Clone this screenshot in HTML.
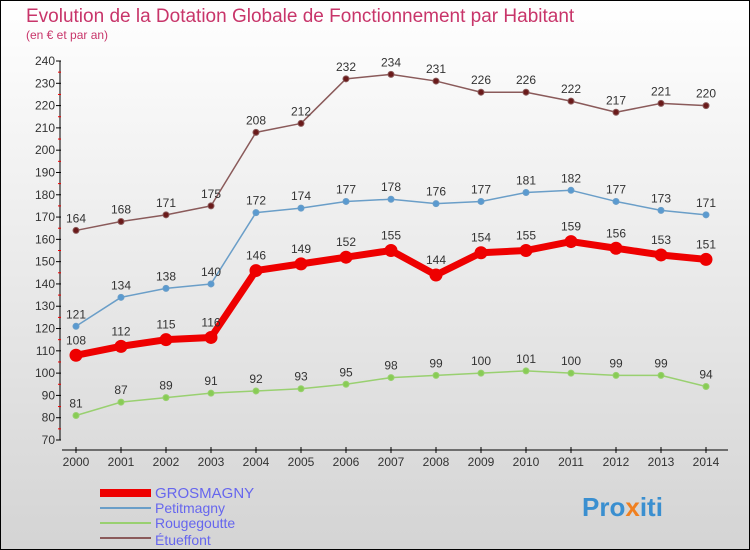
<!DOCTYPE html>
<html><head><meta charset="utf-8"><style>
body{margin:0;}
#c{width:750px;height:550px;position:relative;box-sizing:border-box;border:1px solid #000;background:linear-gradient(#ffffff,#d4d4d4);font-family:"Liberation Sans",sans-serif;overflow:hidden}
</style></head><body>
<div id="c">
<svg id="s" width="750" height="550" style="position:absolute;left:-1px;top:-1px">
<text x="26" y="22" font-size="19" fill="#c8356a">Evolution de la Dotation Globale de Fonctionnement par Habitant</text>
<text x="26" y="39" font-size="12" fill="#c8356a">(en € et par an)</text>
<g id="axes"></g><g id="series"></g>
<g>
<rect x="100" y="489" width="51" height="8" fill="#e00"/>
<text x="155" y="498" font-size="15" fill="#6666ee">GROSMAGNY</text>
<line x1="100" y1="508" x2="151" y2="508" stroke="#6a9ec8" stroke-width="2"/>
<text x="155" y="513" font-size="14" fill="#6666ee">Petitmagny</text>
<line x1="100" y1="523" x2="151" y2="523" stroke="#99d070" stroke-width="2"/>
<text x="155" y="528" font-size="14" fill="#6666ee">Rougegoutte</text>
<line x1="100" y1="538" x2="151" y2="538" stroke="#8a5a5a" stroke-width="2"/>
<text x="155" y="545" font-size="14" fill="#6666ee">Étueffont</text>
</g>
<text x="582" y="516" font-size="26" font-weight="bold" fill="#3a8fd0">Pro<tspan fill="#f08020">x</tspan>iti</text>
</svg>
</div>
<script>
const years=[2000,2001,2002,2003,2004,2005,2006,2007,2008,2009,2010,2011,2012,2013,2014];
const etueffont=[164,168,171,175,208,212,232,234,231,226,226,222,217,221,220];
const petitmagny=[121,134,138,140,172,174,177,178,176,177,181,182,177,173,171];
const grosmagny=[108,112,115,116,146,149,152,155,144,154,155,159,156,153,151];
const rougegoutte=[81,87,89,91,92,93,95,98,99,100,101,100,99,99,94];
const yTicks=[70,80,90,100,110,120,130,140,150,160,170,180,190,200,210,220,230,240];
const NS="http://www.w3.org/2000/svg";
const X=i=>76+i*45.0;
const Y=v=>440-(v-70)*(379/170);
function mk(p,t,a){const e=document.createElementNS(NS,t);for(const k in a)e.setAttribute(k,a[k]);p.appendChild(e);return e;}
const ax=document.getElementById('axes');
let yl=mk(ax,'line',{x1:60,y1:Y(240),x2:60,y2:Y(70),stroke:'#000'});


yTicks.forEach(v=>{
 mk(ax,'line',{x1:56,x2:61,y1:Y(v),y2:Y(v),stroke:'#000'});
 mk(ax,'line',{x1:58,x2:61,y1:Y(v+5),y2:Y(v+5),stroke:'#e00'}).setAttribute('visibility',v<240?'visible':'hidden');
 const t=mk(ax,'text',{x:55,y:Y(v)+4,'font-size':12,fill:'#333','text-anchor':'end'});t.textContent=v;
 
 
});
let xl=mk(ax,'line',{x1:62,y1:450,x2:728,y2:450,stroke:'#000'});


years.forEach((y,i)=>{
 mk(ax,'line',{x1:X(i),x2:X(i),y1:447,y2:453,stroke:'#000'});
 const t=mk(ax,'text',{x:X(i),y:466,'font-size':12,fill:'#333','text-anchor':'middle'});t.textContent=y;
 
 
});
const sg=document.getElementById('series');
function draw(name,vals,col,w,r,dot,lab){
 const g=mk(sg,'g',{});
 
 
 mk(g,'polyline',{points:vals.map((v,i)=>X(i)+','+Y(v)).join(' '),fill:'none',stroke:col,'stroke-width':w,'stroke-linejoin':'round'});
 vals.forEach((v,i)=>{
  const c=mk(g,'circle',{cx:X(i),cy:Y(v),r:r,fill:dot,stroke:col,'stroke-width':1});
  
  
  const t=mk(g,'text',{x:X(i),y:Y(v)-(lab),'font-size':12,fill:'#333','text-anchor':'middle'});t.textContent=v;
  
  
 });
}
draw('rougegoutte',rougegoutte,'#99d070',1.5,3,'#88cc55',8);
draw('grosmagny',grosmagny,'#ee0000',7,6,'#ee0000',11);
draw('petitmagny',petitmagny,'#6a9ec8',1.5,3,'#5a9ad0',8);
draw('etueffont',etueffont,'#8a5a5a',1.5,3,'#6a1a1a',8);
</script>
</body></html>
